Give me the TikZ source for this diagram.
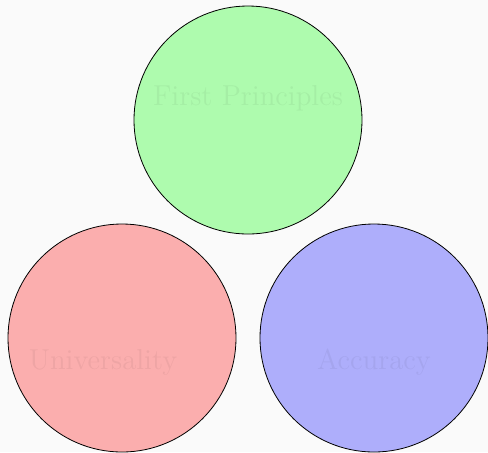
\documentclass[tikz,border=0pt]{standalone}
\usepackage{amsmath, amssymb}
\usepackage[dvipsnames]{xcolor}
\usetikzlibrary{shapes.geometric, shapes}
\definecolor{bggray}{HTML}{FAFAFA}
\tikzstyle{pillar} = [circle, minimum size=114pt, inner sep=0pt, draw=black, line width=0.4pt, fill opacity=0.3, draw opacity=1]
\tikzstyle{faint} = [font=\Large, anchor=base, text=black, text opacity=0.05, inner sep=0pt]

\begin{document}
\begin{tikzpicture}[x=0.5pt, y=-0.5pt]

\fill[bggray] (0,0) rectangle (488,452);
\useasboundingbox (0,0) rectangle (488,452);

\node at (248,120) (principles) [pillar, fill=green] {};
\node at (122,338) (universality) [pillar, fill=red] {};
\node at (374,338) (accuracy) [pillar, fill=blue] {};

\node at (248,105) (principlestext) [faint] {First Principles};
\node at (103,369) (universalitytext) [faint] {Universality};
\node at (374,369) (accuracytext) [faint] {Accuracy};

\end{tikzpicture}
\end{document}
